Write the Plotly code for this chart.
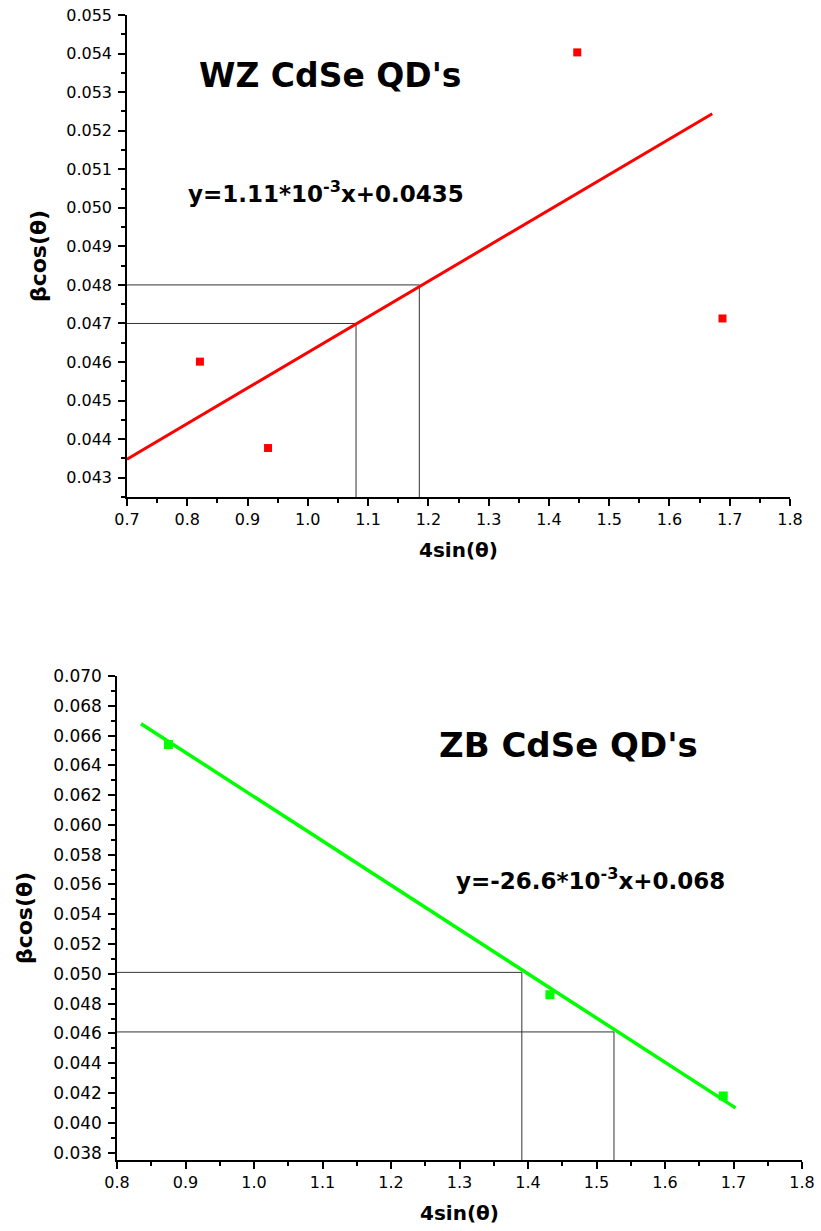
import plotly.graph_objects as go

W, H = 821, 1231

# ---- WZ (top) data ----
wz_x = [0.821, 0.934, 1.447, 1.688]
wz_y = [0.04601, 0.04377, 0.05403, 0.04713]
wz_fit_x = [0.70, 1.671]
wz_fit_y = [0.04348, 0.05244]
wz_guide_x = [1.080, 1.185]
wz_guide_y = [0.0470, 0.0480]
wz_xrange = [0.7, 1.8]
wz_yrange = [0.0425, 0.055]

# ---- ZB (bottom) data ----
zb_x = [0.875, 1.432, 1.685]
zb_y = [0.0654, 0.0486, 0.0418]
zb_fit_x = [0.835, 1.703]
zb_fit_y = [0.0668, 0.0410]
zb_guide_x = [1.391, 1.5255]
zb_guide_y = [0.0501, 0.0461]
zb_xrange = [0.8, 1.8]
zb_yrange = [0.0375, 0.070]

FONT = "DejaVu Sans"

def px_x(p):
    return p / W

def px_y(p):
    return 1 - p / H

fig = go.Figure()

# top panel traces
for gx, gy in zip(wz_guide_x, wz_guide_y):
    fig.add_trace(go.Scatter(x=[wz_xrange[0], gx, gx], y=[gy, gy, wz_yrange[0]],
                             mode="lines", line=dict(color="#333333", width=1),
                             xaxis="x", yaxis="y", showlegend=False, hoverinfo="skip"))
fig.add_trace(go.Scatter(x=wz_fit_x, y=wz_fit_y, mode="lines",
                         line=dict(color="#ff0000", width=3), xaxis="x", yaxis="y",
                         showlegend=False))
fig.add_trace(go.Scatter(x=wz_x, y=wz_y, mode="markers",
                         marker=dict(symbol="square", size=8, color="#ff0000"),
                         xaxis="x", yaxis="y", showlegend=False))

# bottom panel traces
for gx, gy in zip(zb_guide_x, zb_guide_y):
    fig.add_trace(go.Scatter(x=[zb_xrange[0], gx, gx], y=[gy, gy, zb_yrange[0]],
                             mode="lines", line=dict(color="#333333", width=1),
                             xaxis="x2", yaxis="y2", showlegend=False, hoverinfo="skip"))
fig.add_trace(go.Scatter(x=zb_fit_x, y=zb_fit_y, mode="lines",
                         line=dict(color="#00ff00", width=3.5), xaxis="x2", yaxis="y2",
                         showlegend=False))
fig.add_trace(go.Scatter(x=zb_x, y=zb_y, mode="markers",
                         marker=dict(symbol="square", size=9, color="#00ff00"),
                         xaxis="x2", yaxis="y2", showlegend=False))

def xaxis(domain, rng, anchor):
    return dict(domain=domain, range=rng, anchor=anchor, dtick=0.1, tick0=0.0,
                tickformat=".1f", ticks="outside", ticklen=7, tickwidth=1.5,
                tickcolor="black", showline=True, linecolor="black", linewidth=1.5,
                showgrid=False, zeroline=False,
                tickfont=dict(family=FONT, size=16, color="black"), automargin=False,
                minor=dict(dtick=0.05, tick0=0.0, ticks="outside", ticklen=4,
                           tickwidth=1.5, tickcolor="black", showgrid=False),
                title=dict(text="<b>4sin(θ)</b>",
                           font=dict(family=FONT, size=20, color="black"), standoff=15))

def yaxis(domain, rng, anchor, dt, mdt, fs):
    return dict(domain=domain, range=rng, anchor=anchor, dtick=dt, tick0=0.0,
                tickformat=".3f", ticks="outside", ticklen=7, tickwidth=1.5,
                tickcolor="black", showline=True, linecolor="black", linewidth=1.5,
                showgrid=False, zeroline=False, ticklabelstandoff=3,
                tickfont=dict(family=FONT, size=fs, color="black"), automargin=False,
                minor=dict(dtick=mdt, tick0=0.0, ticks="outside", ticklen=4,
                           tickwidth=1.5, tickcolor="black", showgrid=False),
                title=dict(text="<b>βcos(θ)</b>",
                           font=dict(family=FONT, size=22, color="black"), standoff=14))

fig.update_layout(
    width=W, height=H,
    margin=dict(l=0, r=0, t=0, b=0),
    paper_bgcolor="white", plot_bgcolor="white",
    xaxis=xaxis([px_x(127), px_x(790)], wz_xrange, "y"),
    yaxis=yaxis([px_y(497), px_y(15)], wz_yrange, "x", 0.001, 0.0005, 16),
    xaxis2=xaxis([px_x(117), px_x(802)], zb_xrange, "y2"),
    yaxis2=yaxis([px_y(1160), px_y(676)], zb_yrange, "x2", 0.002, 0.001, 17),
    annotations=[
        dict(text="<b>WZ CdSe QD's</b>", x=px_x(330), y=px_y(75), xref="paper", yref="paper",
             xanchor="center", yanchor="middle", showarrow=False,
             font=dict(family=FONT, size=33, color="black")),
        dict(text="<b>y=1.11*10<sup>-3</sup>x+0.0435</b>", x=px_x(326), y=px_y(192),
             xref="paper", yref="paper", xanchor="center", yanchor="middle",
             showarrow=False, font=dict(family=FONT, size=23, color="black")),
        dict(text="<b>ZB CdSe QD's</b>", x=px_x(568), y=px_y(745), xref="paper", yref="paper",
             xanchor="center", yanchor="middle", showarrow=False,
             font=dict(family=FONT, size=34, color="black")),
        dict(text="<b>y=-26.6*10<sup>-3</sup>x+0.068</b>", x=px_x(590), y=px_y(879),
             xref="paper", yref="paper", xanchor="center", yanchor="middle",
             showarrow=False, font=dict(family=FONT, size=23, color="black")),
    ],
)

fig.write_html("out.html")
